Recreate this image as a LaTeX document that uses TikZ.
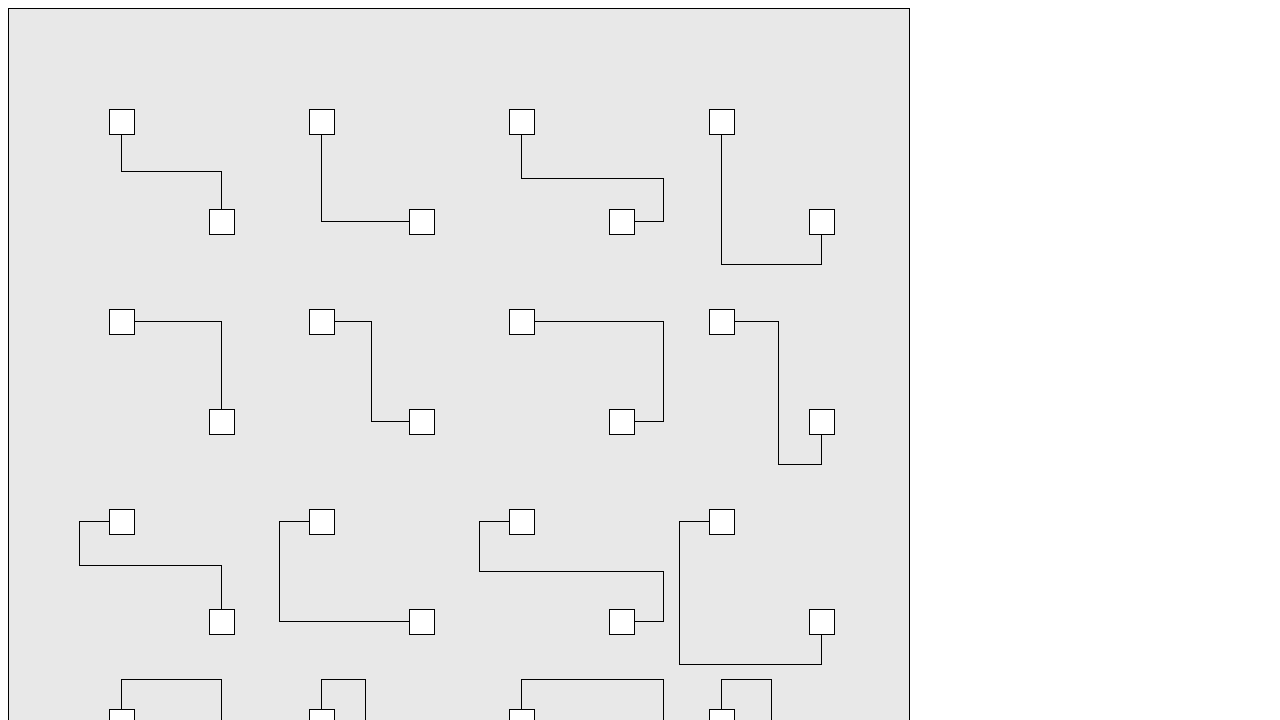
\documentclass[tikz,border=0pt]{standalone}
\usepackage{tikz}

\tikzset{
  box/.style={draw, fill=white, minimum size=25pt, inner sep=0pt, outer sep=0pt, line width=0.8pt},
  wire/.style={line width=0.8pt}
}

\begin{document}
\begin{tikzpicture}[x=1pt,y=-1pt]

\useasboundingbox (0,0) rectangle (1280,720);
\clip (0,0) rectangle (1280,720);

% panel
\draw[fill=black!9, line width=0.8pt] (8.5,8.5) rectangle (909.5,900);

% nodes
\foreach \r in {1,...,4}
  \foreach \c in {1,...,4} {
    \node[box] (s\r\c) at ({200*\c-78.5},{200*\r-78.5}) {};
    \node[box] (t\r\c) at ({200*\c+21.5},{200*\r+21.5}) {};
  }

% wires, row 1
\draw[wire] (s11.south) -- ++(0,37.5) -| (t11.north);
\draw[wire] (s12.south) |- (t12.west);
\draw[wire] (s13.south) |- ++(142,44.5) |- (t13.east);
\draw[wire] (s14.south) -- ++(0,130) -| (t14.south);

% wires, row 2
\draw[wire] (s21.east) -| (t21.north);
\draw[wire] (s22.east) -- ++(37,0) |- (t22.west);
\draw[wire] (s23.east) -| ++(129.5,100) -- (t23.east);
\draw[wire] (s24.east) -- ++(44,0) |- ++(43.5,143) -- (t24.south);

% wires, row 3
\draw[wire] (s31.west) -- ++(-30,0) |- ++(142.5,44) -- (t31.north);
\draw[wire] (s32.west) -- ++(-30,0) |- (t32.west);
\draw[wire] (s33.west) -- ++(-30,0) |- ++(184.5,50) |- (t33.east);
\draw[wire] (s34.west) -- ++(-30,0) |- ++(142.5,143) -- (t34.south);

% wires, row 4
\draw[wire] (s41.north) -- ++(0,-30) -| (t41.north);
\draw[wire] (s42.north) -- ++(0,-30) -| ++(44,142.5) -- (t42.west);
\draw[wire] (s43.north) -- ++(0,-30) -| ++(142,142.5) -- (t43.east);
\draw[wire] (s44.north) -- ++(0,-30) -| ++(50,185) -| (t44.south);

\end{tikzpicture}
\end{document}
